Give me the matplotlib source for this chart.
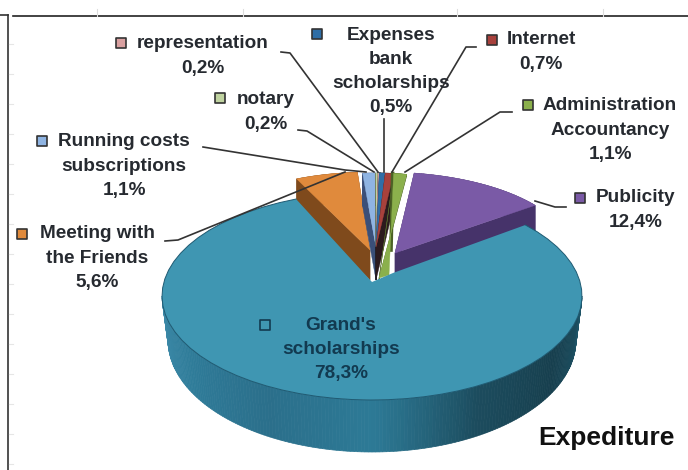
import numpy as np
import matplotlib
matplotlib.use('Agg')
import matplotlib.pyplot as plt
from matplotlib.colors import LinearSegmentedColormap

plt.rcParams['font.family'] = ['Liberation Sans', 'DejaVu Sans']

# Slices, clockwise from the top
names = ['Expenses\nbank\nscholarships', 'Internet', 'Administration\nAccountancy', 'Publicity',
         "Grand's\nscholarships", 'Meeting with\nthe Friends', 'Running costs\nsubscriptions',
         'notary', 'representation']
shares = [0.5, 0.7, 1.1, 12.4, 78.3, 5.6, 1.1, 0.2, 0.2]
top_colors = ['#2f6ea6', '#a8413c', '#8bb04c', '#7a5aa6', '#3f96b2', '#e08a3c', '#8fb4e2', '#c0d3a0', '#d9a0a0']
side_colors = ['#15233a', '#2c1a1e', '#566e2c', '#46336a', '#2c6f8a', '#7f4a1c', '#3a4f78', '#202418', '#242028']

# exploded position of each slice: apex x, apex y, ellipse x, ellipse y, rx, ry, depth
small = (376, 247, 376, 247, 190, 74, 33)
geometry = [small, small, (379, 278, 376, 275, 190, 102, 2),
            (395, 253, 384, 253, 187, 81, 26),
            (372, 282, 372, 296, 210, 104, 48),
            (370, 250, 370, 250, 179, 78, 30),
            small, small, small]
start_angle = 89.0
# the tilted view closes the gap around the big slice a little (degrees)
grand_pad = (7, 3)
grand_inner = (393, 273)
admin_foot = (389, 275)


def wedge(a0, a1, g):
    ax_, ay_, ex, ey, rx, ry, _ = g
    t = np.radians(np.linspace(a0, a1, 60))
    return np.r_[ax_, ex + rx * np.cos(t)], np.r_[ay_, ey - ry * np.sin(t)]


fig = plt.figure(figsize=(6.88, 4.7), dpi=100)
ax = fig.add_axes([0, 0, 1, 1])
ax.set_xlim(0, 688)
ax.set_ylim(470, 0)
ax.axis('off')

# frame of the page the chart was cut from
ax.plot([8, 8], [15, 470], color='#333333', lw=1.2)
ax.plot([13, 688], [16, 16], color='#222222', lw=1.2)
ax.plot([0, 8], [15, 15], color='#333333', lw=1.2)
for x in [97, 243, 457, 603]:
    ax.plot([x, x], [9, 16], color='#dddddd', lw=0.8)
for y in np.arange(44, 470, 30):
    ax.plot([9, 13], [y, y], color='#e6e6e6', lw=0.8)

ends = start_angle - np.cumsum(shares) * 3.6
starts = np.r_[start_angle, ends[:-1]]
order = [5, 6, 7, 8, 0, 1, 2, 3]

for i in order:
    px, py = wedge(starts[i], ends[i], geometry[i])
    d = geometry[i][6]
    for k in range(len(px)):
        k2 = (k + 1) % len(px)
        ax.fill([px[k], px[k2], px[k2], px[k]], [py[k], py[k2], py[k2] + d, py[k] + d],
                color=side_colors[i], lw=0.3, zorder=2)
    if i == 2:
        # green slice keeps some width at its foot, dark edge on its right
        px = np.insert(px, 1, admin_foot[0])
        py = np.insert(py, 1, admin_foot[1])
        ax.plot([px[2] - 1, admin_foot[0] + 2], [py[2], 250], color='#4c6226', lw=2.6, zorder=2)
    ax.fill(px, py, color=top_colors[i], lw=0.3, zorder=2)

# Grand's scholarships: rim with shading, then top face
side_map = LinearSegmentedColormap.from_list('rim', ['#3f8cab', '#2f7c99', '#2b6f8b', '#2d7a96', '#1c4c5e', '#173f4e', '#1e5568'])
g = geometry[4]
angles = np.linspace(180, 360, 181)
for a, b in zip(angles[:-1], angles[1:]):
    ts = np.radians([a, b])
    tx = g[2] + g[4] * np.cos(ts)
    ty = g[3] - g[5] * np.sin(ts)
    bx = g[2] + (g[4] - 6) * np.cos(ts)
    by = 340 - 112 * np.sin(ts)
    ax.fill([tx[0], tx[1], bx[1], bx[0]], [ty[0], ty[1], by[1], by[0]],
            color=side_map((a - 180) / 180), lw=0.5, zorder=3)
px, py = wedge(starts[4] + grand_pad[0], ends[4] - grand_pad[1], g)
px = np.insert(px, 1, grand_inner[0])
py = np.insert(py, 1, grand_inner[1])
ax.fill(px, py, color=top_colors[4], lw=0, zorder=4)
ax.plot(px[2:], py[2:], color='#1f5a72', lw=0.7, zorder=4)

# leader lines
leaders = [([281, 290, 378], [52, 53, 172]),
           ([298, 307, 374], [130, 131, 172]),
           ([203, 345, 366], [147, 170, 172]),
           ([384, 384], [119, 172]),
           ([476, 466, 392], [47, 47, 172]),
           ([512, 500, 405], [112, 112, 172]),
           ([566, 555, 535], [207, 207, 201]),
           ([165, 178, 345], [241, 240, 172])]
for lx, ly in leaders:
    ax.plot(lx, ly, color='#333333', lw=1.2, zorder=5)

# label positions: marker x, marker y, text x, first line y
label_pos = {0: (317, 34, 391, 35), 1: (492, 40, 541, 40), 2: (528, 105, 610, 106), 3: (580, 198, 636, 198),
             4: (265, 325, 341, 325), 5: (22, 234, 97, 234), 6: (42, 141, 124, 142), 7: (220, 98, 266, 100),
             8: (121, 43, 203, 44)}
dark = '#262a30'
for i, name in enumerate(names):
    mx, my, tx, ty = label_pos[i]
    col = '#123a50' if i == 4 else dark
    ax.scatter([mx], [my], marker='s', s=49, facecolor=top_colors[i], edgecolor='#333333' if i != 4 else '#123a50',
               linewidth=1.2, zorder=6)
    text = name + '\n' + f'{shares[i]:.1f}%'.replace('.', ',')
    for n, line in enumerate(text.split('\n')):
        ax.text(tx, ty + n * 24.3, line, ha='center', va='center', fontsize=13.7, fontweight='bold', color=col, zorder=7)

ax.text(606, 438, 'Expediture', ha='center', va='center', fontsize=19, fontweight='bold', color='#111111', zorder=7)

fig.savefig('out.png', dpi=100)
